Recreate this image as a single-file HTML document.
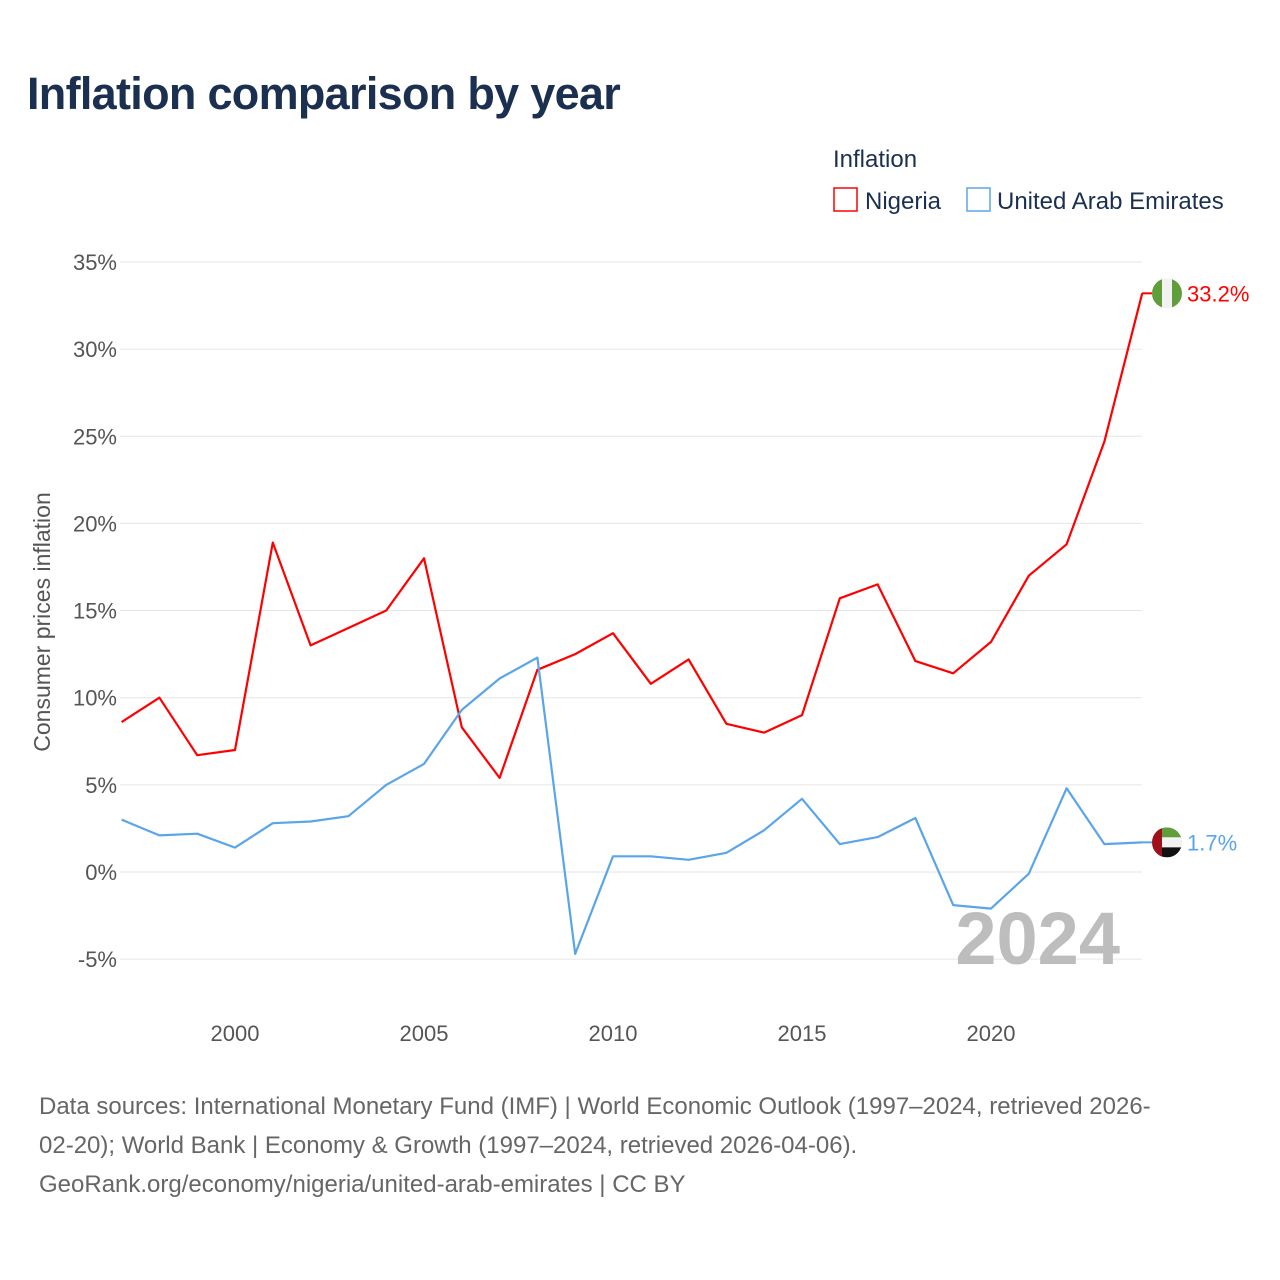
<!DOCTYPE html>
<html><head><meta charset="utf-8">
<style>
html,body{margin:0;padding:0;background:#fff;}
body{width:1280px;height:1280px;position:relative;font-family:"Liberation Sans",sans-serif;overflow:hidden;}
#title{position:absolute;left:27px;top:68px;font-size:45px;font-weight:bold;color:#1b3050;margin:0;letter-spacing:-0.7px;}
#src{position:absolute;left:39px;top:1087px;width:1230px;font-size:24px;line-height:39px;color:#666;white-space:nowrap;}
</style></head><body>
<h1 id="title">Inflation comparison by year</h1>
<svg id="chart" width="1280" height="1080" style="position:absolute;left:0;top:0"></svg>
<div id="src">Data sources: International Monetary Fund (IMF) | World Economic Outlook (1997–2024, retrieved 2026-<br>02-20); World Bank | Economy &amp; Growth (1997–2024, retrieved 2026-04-06).<br>GeoRank.org/economy/nigeria/united-arab-emirates | CC BY</div>
<script>
const years=[1997,1998,1999,2000,2001,2002,2003,2004,2005,2006,2007,2008,2009,2010,2011,2012,2013,2014,2015,2016,2017,2018,2019,2020,2021,2022,2023,2024];
const nigeria=[8.6,10.0,6.7,7.0,18.9,13.0,14.0,15.0,18.0,8.3,5.4,11.6,12.5,13.7,10.8,12.2,8.5,8.0,9.0,15.7,16.5,12.1,11.4,13.2,17.0,18.8,24.7,33.2];
const uae=[3.0,2.1,2.2,1.4,2.8,2.9,3.2,5.0,6.2,9.3,11.1,12.3,-4.7,0.9,0.9,0.7,1.1,2.4,4.2,1.6,2.0,3.1,-1.9,-2.1,-0.1,4.8,1.6,1.7];
const yTicks=[-5,0,5,10,15,20,25,30,35];
const xTicks=[2000,2005,2010,2015,2020];
const NS="http://www.w3.org/2000/svg";
const svg=document.getElementById('chart');
const x=v=>121.6+(v-1997)*37.8;
const y=v=>872-v*17.43;
function mk(t,a,txt){const e=document.createElementNS(NS,t);for(const k in a)e.setAttribute(k,a[k]);if(txt!=null)e.textContent=txt;svg.appendChild(e);return e;}
const F='"Liberation Sans",sans-serif';
yTicks.forEach(t=>{
 const g=mk('line',{x1:120,x2:1142,y1:y(t),y2:y(t),stroke:'#e6e6e6','stroke-width':1});
 
 
 const l=mk('text',{x:117,y:y(t)+8,'text-anchor':'end','font-size':22,fill:'#555','font-family':F},t+'%');
 
 
});
xTicks.forEach(t=>{
 const l=mk('text',{x:x(t),y:1041,'text-anchor':'middle','font-size':22,fill:'#555','font-family':F},t);
 
 
});
const yt=mk('text',{transform:'translate(50,622) rotate(-90)','text-anchor':'middle','font-size':23,fill:'#555','font-family':F},'Consumer prices inflation');


const wm=mk('text',{x:1120,y:964,'text-anchor':'end','font-size':74,'font-weight':'bold',fill:'#bdbdbd','font-family':F},'2024');


function series(vals,color,name){
 const d=vals.map((v,i)=>(i?'L':'M')+x(years[i]).toFixed(1)+','+y(v).toFixed(1)).join('');
 const p=mk('path',{d:d,fill:'none',stroke:color,'stroke-width':2.2,'stroke-linejoin':'round'});
 
 
}
series(nigeria,'#ff0000','nigeria');
series(uae,'#5aa5ea','uae');
const nLast=nigeria[nigeria.length-1],uLast=uae[uae.length-1];
mk('line',{x1:1142,x2:1152,y1:y(nLast),y2:y(nLast),stroke:'#ff0000','stroke-width':2});
mk('line',{x1:1142,x2:1152,y1:y(uLast),y2:y(uLast),stroke:'#5aa5ea','stroke-width':2});
const ny=y(nLast);
mk('defs',{}).innerHTML='<clipPath id="cn"><circle cx="1167" cy="'+ny+'" r="15"/></clipPath><clipPath id="cu"><circle cx="1167" cy="'+y(uLast)+'" r="15"/></clipPath>';
const fn=mk('g',{'clip-path':'url(#cn)'});


fn.innerHTML='<rect x="1152" y="'+(ny-15)+'" width="10" height="30" fill="#5f9e3a"/><rect x="1162" y="'+(ny-15)+'" width="10" height="30" fill="#f2f2f2"/><rect x="1172" y="'+(ny-15)+'" width="10" height="30" fill="#5f9e3a"/>';
const uy=y(uLast);
const fu=mk('g',{'clip-path':'url(#cu)'});


fu.innerHTML='<rect x="1152" y="'+(uy-15)+'" width="30" height="10" fill="#5f9e3a"/><rect x="1152" y="'+(uy-5)+'" width="30" height="10" fill="#f2f2f2"/><rect x="1152" y="'+(uy+5)+'" width="30" height="10" fill="#111"/><rect x="1152" y="'+(uy-15)+'" width="10" height="30" fill="#a0101a"/>';
const nl=mk('text',{x:1187,y:ny+8,'font-size':22,fill:'#ff0000','font-family':F},nLast.toFixed(1)+'%');


const ul=mk('text',{x:1187,y:uy+8,'font-size':22,fill:'#5aa5ea','font-family':F},uLast.toFixed(1)+'%');


const lt=mk('text',{x:833,y:167,'font-size':24,fill:'#1b3050','font-family':F},'Inflation');


const r1=mk('rect',{x:834,y:188,width:23,height:23,fill:'#fff',stroke:'#ff0000','stroke-width':1.5});


const t1=mk('text',{x:865,y:209,'font-size':24,fill:'#1b3050','font-family':F},'Nigeria');


const r2=mk('rect',{x:967,y:188,width:23,height:23,fill:'#fff',stroke:'#5aa5ea','stroke-width':1.5});


const t2=mk('text',{x:997,y:209,'font-size':24,fill:'#1b3050','font-family':F},'United Arab Emirates');


</script>
</body></html>
